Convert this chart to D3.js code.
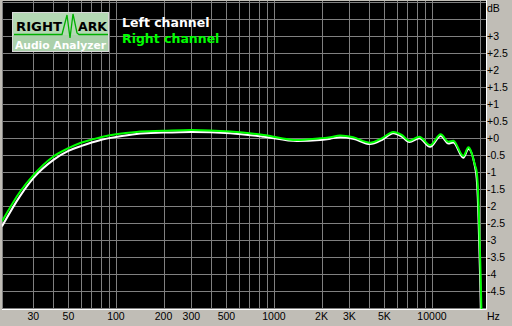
<!DOCTYPE html>
<html lang="en">
<head>
    <meta charset="UTF-8">
    <title>RMAA frequency response</title>
    <script src="https://d3js.org/d3.v7.min.js"></script>
    <style>
        body { margin: 0; background: #c0bdb6; }
        svg { display: block; }
        .tick-label { font-family: "Liberation Sans", Arial, sans-serif; font-size: 10.5px; fill: #000; }
        .legend { font-family: "DejaVu Sans", Verdana, sans-serif; font-size: 12.5px; font-weight: bold; }
        .curve { fill: none; stroke-width: 2px; stroke-linejoin: round; }
    </style>
</head>
<body>
    <div id="chart"></div>

    <script>
        // Frequencies (Hz) and levels (dB)
        const freqs = [19, 24.7, 30, 40, 50, 60, 80, 100, 135, 200, 300, 530, 860, 1400, 1960, 2270, 2620, 3170,
            4060, 4810, 5690, 6440, 7200, 8320, 9730, 11360, 12700, 13650, 15800, 17000, 18730,
            19200, 19500, 19800, 20150, 20550, 20800];
        const leftDb = [-2.6, -1.71, -1.18, -0.65, -0.38, -0.24, -0.06, 0.03, 0.12, 0.16, 0.18, 0.14, 0.04, -0.09, -0.06, -0.02, 0.02, -0.02,
            -0.18, -0.06, 0.14, 0.04, -0.12, -0.01, -0.26, 0.06, -0.16, -0.13, -0.58, -0.32, -0.85,
            -1.2, -1.75, -2.7, -4.0, -5.8, -7.0];
        const rightDb = [-2.45, -1.58, -1.09, -0.55, -0.30, -0.14, 0.02, 0.11, 0.18, 0.21, 0.235, 0.19, 0.09, -0.06, -0.01, 0.02, 0.07, 0.02,
            -0.14, -0.01, 0.18, 0.09, -0.08, 0.04, -0.21, 0.11, -0.11, -0.08, -0.53, -0.27, -0.80,
            -1.0, -1.4, -2.2, -3.4, -5.0, -6.5];

        // Axis ticks
        const xGrid = [30, 40, 50, 60, 70, 80, 90, 100, 200, 300, 400, 500, 600, 700, 800, 900,
            1000, 2000, 3000, 4000, 5000, 6000, 7000, 8000, 9000, 10000, 20000];
        const xTickValues = [30, 50, 100, 200, 300, 500, 1000, 2000, 3000, 5000, 10000];
        const xTickLabels = ["30", "50", "100", "200", "300", "500", "1000", "2K", "3K", "5K", "10000"];
        const yGrid = d3.range(-5, 4.01, 0.5);
        const yTickValues = [3, 2.5, 2, 1.5, 1, 0.5, 0, -0.5, -1, -1.5, -2, -2.5, -3, -3.5, -4, -4.5];
        const yTickLabels = ["+3", "+2.5", "+2", "+1.5", "+1", "+0.5", "+0", "-0.5", "-1", "-1.5", "-2", "-2.5", "-3", "-3.5", "-4", "-4.5"];

        const width = 512, height = 326;
        const plot = {left: 2, right: 485, top: 2, bottom: 308};

        const svg = d3.select("#chart")
            .append("svg")
            .attr("width", width)
            .attr("height", height);

        // Scales
        const x = d3.scaleLog().domain([19, 21660]).range([plot.left, plot.right]);
        const y = d3.scaleLinear().domain([-5, 4]).range([plot.bottom, plot.top]);
        const px = v => Math.round(v) + 0.5;

        // Plot panel
        svg.append("rect")
            .attr("x", plot.left).attr("y", 1)
            .attr("width", plot.right - plot.left + 1).attr("height", plot.bottom)
            .attr("fill", "#000");

        svg.append("clipPath").attr("id", "clip")
            .append("rect")
            .attr("x", plot.left).attr("y", 1)
            .attr("width", plot.right - plot.left + 1).attr("height", plot.bottom);

        // Grid
        const grid = svg.append("g").attr("stroke", "#808080").attr("stroke-width", 1);
        grid.selectAll(".vline").data(xGrid).join("line")
            .attr("x1", d => px(x(d))).attr("x2", d => px(x(d)))
            .attr("y1", 1).attr("y2", plot.bottom + 1);
        grid.selectAll(".hline").data(yGrid).join("line")
            .attr("x1", plot.left).attr("x2", plot.right + 1)
            .attr("y1", d => px(y(d))).attr("y2", d => px(y(d)));
        grid.append("line")
            .attr("x1", plot.left + 0.5).attr("x2", plot.left + 0.5)
            .attr("y1", 1).attr("y2", plot.bottom + 1);

        // Sunken border
        svg.append("line").attr("stroke", "#fff")
            .attr("x1", plot.left).attr("x2", plot.right + 1.5)
            .attr("y1", plot.bottom + 1.5).attr("y2", plot.bottom + 1.5);
        svg.append("line").attr("stroke", "#fff")
            .attr("x1", plot.right + 1.5).attr("x2", plot.right + 1.5)
            .attr("y1", 0).attr("y2", plot.bottom + 1.5);

        // Curves
        const line = d3.line()
            .x(d => x(d[0]))
            .y(d => y(d[1]))
            .curve(d3.curveMonotoneX);

        const curves = svg.append("g").attr("clip-path", "url(#clip)");
        curves.append("path")
            .datum(freqs.map((f, i) => [f, leftDb[i]]))
            .attr("class", "curve")
            .attr("stroke", "#ffffff")
            .attr("d", line);
        curves.append("path")
            .datum(freqs.map((f, i) => [f, rightDb[i]]))
            .attr("class", "curve")
            .attr("stroke", "#00ff00")
            .attr("d", line);

        // Axis labels
        svg.selectAll(".xlab").data(xTickValues).join("text")
            .attr("class", "tick-label")
            .attr("x", d => x(d))
            .attr("y", 319.5)
            .attr("text-anchor", "middle")
            .text((d, i) => xTickLabels[i]);
        svg.append("text").attr("class", "tick-label")
            .attr("x", 487).attr("y", 319.5).text("Hz");

        svg.selectAll(".ylab").data(yTickValues).join("text")
            .attr("class", "tick-label")
            .attr("x", 487)
            .attr("y", d => y(d) + 3.8)
            .text((d, i) => yTickLabels[i]);
        svg.append("text").attr("class", "tick-label")
            .attr("x", 487).attr("y", 11.5).text("dB");

        // Legend
        svg.append("text").attr("class", "legend")
            .attr("x", 122).attr("y", 27).attr("fill", "#ffffff").text("Left channel");
        svg.append("text").attr("class", "legend")
            .attr("x", 122).attr("y", 43).attr("fill", "#00ff00").text("Right channel");

        // RightMark logo
        const logo = svg.append("g");
        logo.append("rect")
            .attr("x", 12.5).attr("y", 12.5).attr("width", 96).attr("height", 39)
            .attr("fill", "#b4d8b4").attr("stroke", "#d8d8d8");
        logo.append("rect")
            .attr("x", 13).attr("y", 35).attr("width", 95).attr("height", 16)
            .attr("fill", "#abd0ab");
        logo.append("text")
            .attr("x", 16).attr("y", 31)
            .attr("font-family", "DejaVu Sans, sans-serif").attr("font-size", 11.5).attr("font-weight", "bold")
            .attr("textLength", 46).attr("lengthAdjust", "spacingAndGlyphs")
            .attr("fill", "#000").text("RIGHT");
        logo.append("text")
            .attr("x", 78).attr("y", 31)
            .attr("font-family", "DejaVu Sans, sans-serif").attr("font-size", 11.5).attr("font-weight", "bold")
            .attr("textLength", 29).attr("lengthAdjust", "spacingAndGlyphs")
            .attr("fill", "#000").text("ARK");
        logo.append("path")
            .attr("d", "M14,34.5 L62,34.5 L67,15 L70,38 L73,14 L77,33 L79,34.5 L108,34.5")
            .attr("fill", "none").attr("stroke", "#00b000").attr("stroke-width", 1.3);
        logo.append("text")
            .attr("x", 15).attr("y", 49)
            .attr("font-family", "DejaVu Sans, sans-serif").attr("font-size", 10.5).attr("font-weight", "bold")
            .attr("textLength", 91).attr("lengthAdjust", "spacingAndGlyphs")
            .attr("fill", "#fff").text("Audio Analyzer");
    </script>
</body>
</html>
